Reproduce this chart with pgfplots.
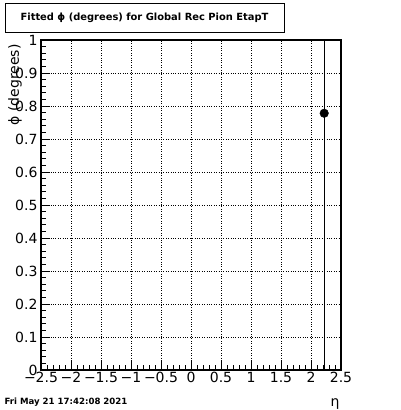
\documentclass[border=0pt]{standalone}
\usepackage{fontspec}
\setmainfont{DejaVu Sans}
\usepackage{pgfplots}
\pgfplotsset{compat=1.18}
\begin{document}
\begin{tikzpicture}[x=1pt,y=1pt]
\useasboundingbox (0,0) rectangle (400,410);
\begin{axis}[
  at={(41pt,40pt)}, anchor=south west,
  scale only axis, width=300pt, height=330pt,
  xmin=-2.5, xmax=2.5, ymin=0, ymax=1,
  xtick={-2.5,-2,-1.5,-1,-0.5,0,0.5,1,1.5,2,2.5},
  xticklabels={−2.5,−2,−1.5,−1,−0.5,0,0.5,1,1.5,2,2.5},
  ytick={0,0.1,0.2,0.3,0.4,0.5,0.6,0.7,0.8,0.9,1},
  yticklabels={0,0.1,0.2,0.3,0.4,0.5,0.6,0.7,0.8,0.9,1},
  minor x tick num=4, minor y tick num=4,
  tick align=inside, xtick pos=left, ytick pos=left,
  major tick length=9pt, minor tick length=4.5pt,
  tick style={black, line width=0.6pt},
  grid=major, major grid style={dotted, black, line width=0.7pt},
  axis line style={black, line width=1.2pt},
  ticklabel style={font=\fontsize{14}{16}\selectfont},
  xticklabel style={yshift=1pt},
  clip=true,
]
\addplot[only marks, mark=*, mark size=4.3pt, black,
  error bars/.cd, y dir=both, y explicit,
  error bar style={black, line width=0.7pt}, error mark=none]
  coordinates {(2.22,0.778) +- (0,1.5)};
\end{axis}
\draw[black, line width=0.8pt] (5,378) rectangle (284,407);
\node[font=\fontsize{9.9}{11}\selectfont\bfseries] at (144.5,392.5) {Fitted ϕ (degrees) for Global Rec Pion EtapT};
\node[font=\fontsize{14}{16}\selectfont, rotate=90, anchor=east] at (15,369) {ϕ (degrees)};
\node[font=\fontsize{14}{16}\selectfont] at (335,6) {η};
\node[font=\fontsize{8.6}{10}\selectfont\bfseries, anchor=west] at (1,8) {Fri May 21 17:42:08 2021};
\end{tikzpicture}
\end{document}
